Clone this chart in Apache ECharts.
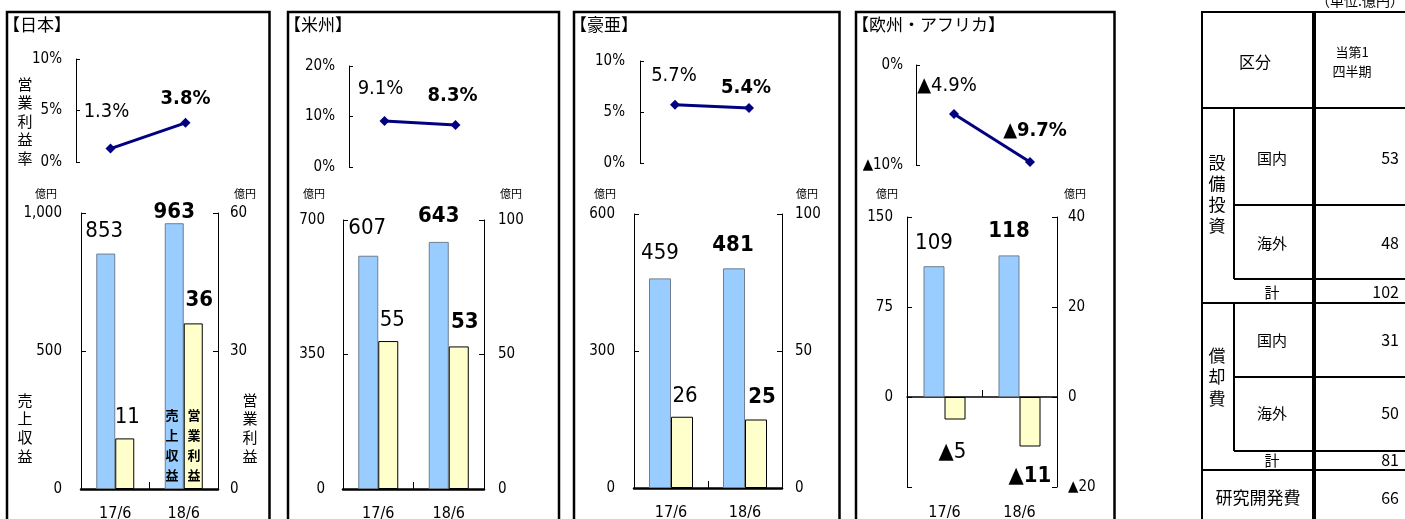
<!DOCTYPE html>
<html><head><meta charset="utf-8">
<script src="https://cdn.jsdelivr.net/npm/echarts@6/dist/echarts.min.js"></script>
<style>html,body{margin:0;padding:0;background:#fff}#c{width:1405px;height:519px}</style>
</head><body><div id="c"></div>
<script>
// ---- data ----
const categories = ['17/6', '18/6'];
const salesJapan = [853, 963];
const profitJapan = [11, 36];
const marginJapan = [1.3, 3.8];
const salesAmericas = [607, 643];
const profitAmericas = [55, 53];
const marginAmericas = [9.1, 8.3];
const salesAsia = [459, 481];
const profitAsia = [26, 25];
const marginAsia = [5.7, 5.4];
const salesEurope = [109, 118];
const profitEurope = [-5, -11];
const marginEurope = [-4.9, -9.7];
const regionTitles = ['【日本】', '【米州】', '【豪亜】', '【欧州・アフリカ】'];
const capexLabels = ['国内', '海外', '計'];
const capexValues = [53, 48, 102];
const deprLabels = ['国内', '海外', '計'];
const deprValues = [31, 50, 81];
const rdLabels = ['研究開発費'];
const rdValues = [66];

const NUM = "'Liberation Sans Narrow','DejaVu Sans Condensed','Noto Sans CJK JP',sans-serif";
const JP = "'Noto Sans CJK JP',sans-serif";

function neg(v) { return v < 0 ? '▲' + Math.abs(v) : String(v); }
function comma(v) { return v < 0 ? '▲' + Math.abs(v).toLocaleString('en-US') : v.toLocaleString('en-US'); }

const panels = [
  { sales: salesJapan, profit: profitJapan, margin: marginJapan, frameX: 7, frameW: 262.5, titleX: 3,
    lg: { left: 73, width: 150, top: 59, height: 103, min: 0, max: 10, interval: 5, offset: -3, margin: 14 },
    bg: { left: 81, width: 137, top: 213, height: 276, lmin: 0, lmax: 1000, lint: 500, rmin: 0, rmax: 60, rint: 30, bw: 19, lm: 19, rm: 12 },
    mOff: [[-4, -37], [0, -24]], sOff: [[-1.5, -11], [0, 0]], pOff: [[2.5, -10], [6, -12]],
    yen: [46, 245] },
  { sales: salesAmericas, profit: profitAmericas, margin: marginAmericas, frameX: 288, frameW: 271, titleX: 284,
    lg: { left: 349, width: 142, top: 66, height: 101, min: 0, max: 20, interval: 10, offset: 0, margin: 14 },
    bg: { left: 343, width: 141, top: 220, height: 269, lmin: 0, lmax: 700, lint: 350, rmin: 0, rmax: 100, rint: 50, bw: 20, lm: 18, rm: 14 },
    mOff: [[-4, -32], [-3, -29]], sOff: [[-1, -16], [0, -15]], pOff: [[4, -10], [6, -13]],
    yen: [314, 511] },
  { sales: salesAsia, profit: profitAsia, margin: marginAsia, frameX: 574, frameW: 265.5, titleX: 570,
    lg: { left: 638, width: 148, top: 61, height: 102, min: 0, max: 10, interval: 5, offset: -2, margin: 15 },
    bg: { left: 634, width: 148, top: 214, height: 274, lmin: 0, lmax: 600, lint: 300, rmin: 0, rmax: 100, rint: 50, bw: 22, lm: 19, rm: 13 },
    mOff: [[-1, -29], [-3, -20]], sOff: [[0, -14], [-1, -12]], pOff: [[3, -9], [6, -11]],
    yen: [605, 807] },
  { sales: salesEurope, profit: profitEurope, margin: marginEurope, frameX: 856, frameW: 258.5, titleX: 852,
    lg: { left: 916, width: 152, top: 65, height: 100, min: -10, max: 0, interval: 10, offset: 0, margin: 13 },
    bg: { left: 907, width: 150, top: 217, height: 270, lmin: -75, lmax: 150, lint: 75, rmin: -20, rmax: 40, rint: 20, bw: 21, lm: 14, rm: 11, onZero: true, hideLeftNeg: true },
    mOff: [[-7, -28], [5, -31]], sOff: [[0, -12], [0, -13]], pOff: [[-2.5, 44], [0, 55]], profitInside: true,
    yen: [887, 1075] }
];

const grid = [], xAxis = [], yAxis = [], series = [], graphic = [];

panels.forEach((p, k) => {
  graphic.push({ type: 'rect', silent: true, shape: { x: p.frameX, y: 12, width: p.frameW, height: 530 },
    style: { fill: 'none', stroke: '#000', lineWidth: 2.5 } });
  graphic.push({ type: 'text', silent: true, style: { text: regionTitles[k], x: p.titleX, y: 25, font: '17px ' + JP, fill: '#000', textVerticalAlign: 'middle' } });
  p.yen.forEach((x) => graphic.push({ type: 'text', silent: true, style: { text: '億円', x: x, y: 194, font: '11px ' + JP, fill: '#000', textAlign: 'center', textVerticalAlign: 'middle' } }));

  const lgi = grid.length;
  grid.push({ left: p.lg.left, top: p.lg.top, width: p.lg.width, height: p.lg.height, containLabel: false, outerBoundsMode: 'none' });
  const lxi = xAxis.length;
  xAxis.push({ type: 'category', gridIndex: lgi, data: categories, show: false });
  const lyi = yAxis.length;
  yAxis.push({ type: 'value', gridIndex: lgi, min: p.lg.min, max: p.lg.max, interval: p.lg.interval, offset: p.lg.offset,
    axisLine: { show: true, lineStyle: { color: '#000', width: 1 } },
    axisTick: { show: true, inside: true, length: 4, lineStyle: { color: '#000' } },
    splitLine: { show: false },
    axisLabel: { formatter: (v) => neg(v) + '%', color: '#000', fontSize: 15, fontFamily: NUM, margin: p.lg.margin } });
  series.push({ type: 'line', xAxisIndex: lxi, yAxisIndex: lyi, symbol: 'diamond', symbolSize: 10,
    lineStyle: { color: '#000080', width: 3 }, itemStyle: { color: '#000080' },
    data: p.margin.map((v, i) => ({ value: v, label: { offset: p.mOff[i], fontWeight: i === 1 ? 'bold' : 'normal' } })),
    label: { show: true, position: 'inside', color: '#000', fontSize: 20, fontFamily: NUM, formatter: (d) => neg(d.value) + '%' } });

  const bgi = grid.length;
  grid.push({ left: p.bg.left, top: p.bg.top, width: p.bg.width, height: p.bg.height, containLabel: false, outerBoundsMode: 'none' });
  const bxi = xAxis.length;
  xAxis.push({ type: 'category', gridIndex: bgi, data: categories,
    axisLine: { onZero: !!p.bg.onZero, lineStyle: { color: '#000', width: p.bg.onZero ? 1.5 : 2.5 } },
    axisTick: { show: true, inside: true, length: 7, lineStyle: { color: '#000', width: 1 } },
    axisLabel: { show: !p.bg.onZero, color: '#000', fontSize: 16, fontFamily: NUM, margin: 17 } });
  if (p.bg.onZero) {
    xAxis.push({ type: 'category', gridIndex: bgi, data: categories, position: 'bottom',
      axisLine: { show: false, onZero: false }, axisTick: { show: false },
      axisLabel: { color: '#000', fontSize: 16, fontFamily: NUM, margin: 18 } });
  }
  const lyb = yAxis.length;
  yAxis.push({ type: 'value', gridIndex: bgi, position: 'left', min: p.bg.lmin, max: p.bg.lmax, interval: p.bg.lint,
    axisLine: { show: true, onZero: false, lineStyle: { color: '#000', width: 1 } },
    axisTick: { show: true, inside: true, length: 5, lineStyle: { color: '#000' } },
    splitLine: { show: false },
    axisLabel: { formatter: (v) => (p.bg.hideLeftNeg && v < 0) ? '' : comma(v), color: '#000', fontSize: 15, fontFamily: NUM, margin: p.bg.lm } });
  const ryb = yAxis.length;
  yAxis.push({ type: 'value', gridIndex: bgi, position: 'right', min: p.bg.rmin, max: p.bg.rmax, interval: p.bg.rint,
    axisLine: { show: true, onZero: false, lineStyle: { color: '#000', width: 1 } },
    axisTick: { show: true, inside: true, length: 5, lineStyle: { color: '#000' } },
    splitLine: { show: false },
    axisLabel: { formatter: (v) => neg(v), color: '#000', fontSize: 15, fontFamily: NUM, margin: p.bg.rm } });
  series.push({ type: 'bar', name: '売上収益', xAxisIndex: bxi, yAxisIndex: lyb, barWidth: p.bg.bw, barGap: '0%',
    itemStyle: { color: '#99CCFF', borderColor: '#6f7f8f', borderWidth: 1 },
    data: p.sales.map((v, i) => ({ value: v, label: { offset: p.sOff[i], fontWeight: i === 1 ? 'bold' : 'normal' } })),
    label: { show: true, position: 'top', distance: 0, lineHeight: 22, color: '#000', fontSize: 22, fontFamily: NUM, formatter: (d) => neg(d.value) } });
  series.push({ type: 'bar', name: '営業利益', xAxisIndex: bxi, yAxisIndex: ryb, barWidth: p.bg.bw, barGap: '0%',
    itemStyle: { color: '#FFFFCC', borderColor: '#000', borderWidth: 1 },
    data: p.profit.map((v, i) => ({ value: v, label: { offset: p.pOff[i], fontWeight: i === 1 ? 'bold' : 'normal' } })),
    label: { show: true, position: p.profitInside ? 'inside' : 'top', distance: 0, lineHeight: 22, color: '#000', fontSize: 22, fontFamily: NUM, formatter: (d) => neg(d.value) } });
});

function vtext(str, x, y, size, lh, bold) {
  graphic.push({ type: 'text', silent: true, z: 100, style: { text: str.split('').join('\n'), x: x, y: y, font: (bold ? 'bold ' : '') + size + 'px ' + JP, lineHeight: lh, fill: '#000', textAlign: 'center', textVerticalAlign: 'middle' } });
}
vtext('営業利益率', 25, 121, 15, 18.5);
vtext('売上収益', 25, 428, 15, 18.7);
vtext('営業利益', 250, 428, 15, 18.7);
vtext('売上収益', 172, 445, 13, 20, true);
vtext('営業利益', 194, 445, 13, 20, true);

function ln(x1, y1, x2, y2, w) { graphic.push({ type: 'line', silent: true, shape: { x1, y1, x2, y2 }, style: { stroke: '#000', lineWidth: w || 2 } }); }
function tx(str, x, y, size, align) { graphic.push({ type: 'text', silent: true, style: { text: str, x: x, y: y, font: size + 'px ' + JP, fill: '#000', textAlign: align || 'center', textVerticalAlign: 'middle' } }); }
const TL = 1202, TI = 1234, TT = 1314, TR = 1412;
ln(TL, 12, TR, 12); ln(TL, 108, TR, 108); ln(TI, 205, TR, 205); ln(TI, 279, TR, 279);
ln(TL, 303, TR, 303); ln(TI, 377, TR, 377); ln(TI, 451, TR, 451); ln(TL, 470, TR, 470);
ln(TL, 11, TL, 530); ln(TI, 108, TI, 279); ln(TI, 303, TI, 451); ln(TT, 11, TT, 530, 4);
tx('（単位:億円）', 1404, 1, 14, 'right');
tx('区分', 1255, 62, 16);
tx('当第1', 1352, 52, 13); tx('四半期', 1352, 71, 13);
graphic.push({ type: 'text', silent: true, style: { text: '設\n備\n投\n資', x: 1217, y: 194, font: '17px ' + JP, lineHeight: 21, fill: '#000', textAlign: 'center', textVerticalAlign: 'middle' } });
graphic.push({ type: 'text', silent: true, style: { text: '償\n却\n費', x: 1217, y: 377, font: '17px ' + JP, lineHeight: 21.5, fill: '#000', textAlign: 'center', textVerticalAlign: 'middle' } });
const capexY = [158, 243, 292], deprY = [340, 413, 460], rdY = [498];
capexLabels.forEach((s, i) => { tx(s, 1272, capexY[i], 15); tx(String(capexValues[i]), 1399, capexY[i], 16, 'right'); });
deprLabels.forEach((s, i) => { tx(s, 1272, deprY[i], 15); tx(String(deprValues[i]), 1399, deprY[i], 16, 'right'); });
rdLabels.forEach((s, i) => { tx(s, 1258, rdY[i], 17); tx(String(rdValues[i]), 1399, rdY[i], 16, 'right'); });

const chart = echarts.init(document.getElementById('c'), null, { renderer: 'canvas' });
chart.setOption({ animation: false, backgroundColor: '#fff', grid, xAxis, yAxis, series, graphic });
</script></body></html>
